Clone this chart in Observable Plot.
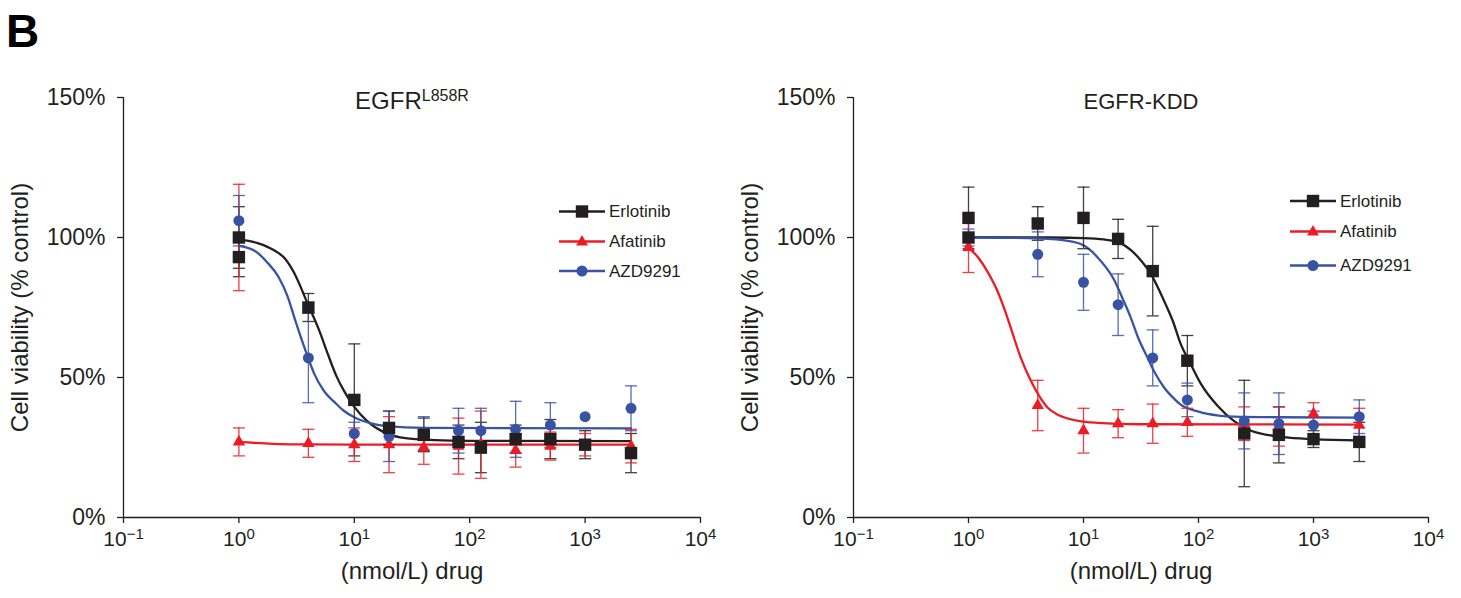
<!DOCTYPE html>
<html><head><meta charset="utf-8">
<script src="https://cdn.jsdelivr.net/npm/d3@7"></script>
<script src="https://cdn.jsdelivr.net/npm/@observablehq/plot@0.6"></script>
<style>
html,body{margin:0;padding:0;background:#fff;}
#wrap{position:relative;width:1461px;height:598px;overflow:hidden;font-family:"Liberation Sans",Arial,sans-serif;color:#231f20;}
#wrap svg{position:absolute;top:0;}
</style></head>
<body><div id="wrap"></div>
<script>
// ---------- shared ----------
const drugs = ["Erlotinib", "Afatinib", "AZD9291"];
const drugColors = ["#231f20", "#ed1c24", "#3953a4"];
const xTicks = [0.1, 1, 10, 100, 1000, 10000];
const xTickLabels = ["10^\u22121", "10^0", "10^1", "10^2", "10^3", "10^4"];
const yTicks = [0, 50, 100, 150];
const yTickLabels = ["0%", "50%", "100%", "150%"];
const xLabel = "(nmol/L) drug";
const yLabel = "Cell viability (% control)";
const panelTitles = ["EGFR^L858R", "EGFR-KDD"];
const figureLetter = "B";

// ---------- panel 1: EGFR L858R ----------
const l858rErlotinibConc = [1, 1, 4, 10, 20, 40, 80, 125, 250, 500, 1000, 2500];
const l858rErlotinibMean = [100, 93, 75, 42, 32, 29.5, 27, 25, 28, 28, 26, 23];
const l858rErlotinibSd   = [11, 7, 5, 20, 6, 6, 6, 9, 5, 7, 5, 7];
const l858rAfatinibConc = [1, 1, 4, 10, 20, 40, 80, 125, 250, 500, 1000, 2500];
const l858rAfatinibMean = [100, 27, 26.5, 26, 26, 25, 25.5, 26, 24, 25.5, 26, 25.5];
const l858rAfatinibSd   = [19, 5, 5, 6, 10, 6, 10, 12, 6, 5, 4, 6];
const l858rAzdConc = [1, 4, 10, 20, 40, 80, 125, 250, 500, 1000, 2500];
const l858rAzdMean = [106, 57, 30, 29, 30, 31, 31, 31.5, 33, 36, 39];
const l858rAzdSd   = [9, 16, 4, 9, 6, 8, 8, 10, 8, 0, 8];
// fitted curves
const l858rErlotinibFitConc = [1, 1.5, 2, 2.5, 3, 3.94, 5, 5.87, 7, 8.1, 10, 12.8, 18, 25, 50, 100, 2500];
const l858rErlotinibFitVal  = [99.3, 97.8, 95.5, 92.5, 87.5, 76.4, 66.5, 58.6, 50.5, 45.4, 39.5, 34.6, 30.5, 28.6, 27.6, 27.4, 27.3];
const l858rAfatinibFitConc = [1, 2, 4, 10, 2500];
const l858rAfatinibFitVal  = [27, 26.3, 26.1, 26, 26];
const l858rAzdFitConc = [1, 1.4, 1.77, 2.2, 2.64, 3.1, 3.44, 3.98, 4.5, 5.5, 6.7, 8, 10, 14, 19.4, 40, 2500];
const l858rAzdFitVal  = [97, 95, 91, 86, 79, 70, 64.4, 57, 51.3, 45, 41.3, 38.3, 35.8, 33.6, 32.6, 32, 31.8];

// ---------- panel 2: EGFR-KDD ----------
const kddErlotinibConc = [1, 1, 4, 10, 20, 40, 80, 250, 500, 1000, 2500];
const kddErlotinibMean = [107, 100, 105, 107, 99.5, 88, 56, 30, 29.5, 28, 27];
const kddErlotinibSd   = [11, 0, 6, 11, 7, 16, 9, 19, 10, 3, 7];
const kddAfatinibConc = [1, 4, 10, 20, 40, 80, 250, 500, 1000, 2500];
const kddAfatinibMean = [96.5, 40, 31, 33.5, 33.5, 34, 33.5, 32.5, 37, 33];
const kddAfatinibSd   = [9, 9, 8, 5, 7, 5, 6, 7, 4, 6];
const kddAzdConc = [1, 4, 10, 20, 40, 80, 250, 500, 1000, 2500];
const kddAzdMean = [100, 94, 84, 76, 57, 42, 34.5, 33.5, 33, 36];
const kddAzdSd   = [3, 8, 10, 11, 10, 6, 10, 11, 5, 6];
const kddErlotinibFitConc = [1, 5, 10, 15, 20, 25.7, 32, 38.5, 50, 60, 70, 85, 105, 147, 204, 286, 557, 1000, 2500];
const kddErlotinibFitVal  = [100.1, 100, 99.8, 99.3, 98.3, 95.6, 91.5, 87, 77.5, 70, 62, 55, 47.7, 39.8, 34.4, 31, 28.7, 28, 27.5];
const kddAfatinibFitConc = [1, 1.27, 1.5, 1.78, 2.05, 2.32, 2.84, 3.47, 4.1, 4.84, 5.8, 6.76, 9, 13.2, 30, 2500];
const kddAfatinibFitVal  = [96.5, 91.8, 87, 81, 74.5, 68, 57.2, 49, 43.5, 39.4, 37, 35.8, 34.5, 33.8, 33.3, 33.2];
const kddAzdFitConc = [1, 4, 8, 10, 13.2, 18.4, 22, 25.7, 30, 35.9, 42, 50, 60, 70, 100, 150, 204, 500, 2500];
const kddAzdFitVal  = [100, 99.7, 98.5, 97.2, 93, 85, 78, 71.5, 64, 57.2, 51.5, 46.5, 42.8, 40.3, 37.8, 36.4, 36, 35.8, 35.7];

// ---------- helpers ----------
const pts = (conc, mean, sd) => conc.map((c, i) => ({conc: c, mean: mean[i], sd: sd[i]}));
const fit = (conc, val) => conc.map((c, i) => ({conc: c, val: val[i]}));
const capSymbol = {draw(ctx) { ctx.moveTo(-6, 0); ctx.lineTo(6, 0); }};
const symbolOf = {Erlotinib: {symbol: "square", r: 7}, Afatinib: {symbol: "triangle", r: 4.6}, AZD9291: {symbol: "circle", r: 5.5}};
const colorOf = Object.fromEntries(drugs.map((d, i) => [d, drugColors[i]]));

function fixText(svg, titleSize, titleSupSize) {
  d3.select(svg).selectAll("text").each(function () {
    const t = this.textContent;
    const s = d3.select(this);
    if (/^\d+%$/.test(t)) { s.style("font-size", "23px"); return; }
    const k = t.indexOf("^");
    if (k < 0) return;
    const base = t.slice(0, k), sup = t.slice(k + 1);
    const tick = base === "10";
    s.text(null).style("font-size", (tick ? 21 : titleSize) + "px");
    s.append("tspan").text(base);
    s.append("tspan").style("font-size", (tick ? 15 : titleSupSize) + "px").attr("dy", tick ? -7 : -7.5).text(sup);
  });
}

function panel({width, marginRight, title, titleSize, series}) {
  const marks = [
    Plot.ruleY([{y: 0, x1: xTicks[0], x2: xTicks[xTicks.length - 1]}], {y: "y", x1: "x1", x2: "x2", stroke: "#231f20", strokeWidth: 1.3}),
    Plot.ruleX([{x: xTicks[0], y1: yTicks[0], y2: yTicks[yTicks.length - 1]}], {x: "x", y1: "y1", y2: "y2", stroke: "#231f20", strokeWidth: 1.3}),
    Plot.axisX({ticks: xTicks, tickFormat: d => xTickLabels[xTicks.indexOf(d)], tickSize: 6, tickPadding: 8, fontSize: 21, label: null, strokeWidth: 1.3}),
    Plot.axisY({ticks: yTicks, tickFormat: d => yTickLabels[yTicks.indexOf(d)], tickSize: 6, tickPadding: 12, fontSize: 23, label: null, strokeWidth: 1.3}),
    Plot.text([xLabel], {text: d => d, frameAnchor: "bottom", dy: 61, fontSize: 24, textAnchor: "middle"}),
    Plot.text([yLabel], {text: d => d, frameAnchor: "left", dx: -103, rotate: -90, fontSize: 24, textAnchor: "middle"}),
    Plot.text([title], {text: d => d, frameAnchor: "top", dy: 11, lineAnchor: "bottom", fontSize: titleSize, textAnchor: "middle"})
  ];
  for (const s of series) {
    marks.push(Plot.line(s.fit, {x: "conc", y: "val", stroke: colorOf[s.drug], strokeWidth: 2.3, curve: "monotone-x"}));
  }
  for (const s of series) {
    const e = s.pts.filter(d => d.sd > 0);
    const c = colorOf[s.drug];
    marks.push(Plot.ruleX(e, {x: "conc", y1: d => d.mean - d.sd, y2: d => d.mean + d.sd, stroke: c, strokeWidth: 1.3, strokeOpacity: 0.85}));
    marks.push(Plot.dot(e, {x: "conc", y: d => d.mean + d.sd, symbol: capSymbol, fill: "none", stroke: c, strokeWidth: 1.3, strokeOpacity: 0.85}));
    marks.push(Plot.dot(e, {x: "conc", y: d => d.mean - d.sd, symbol: capSymbol, fill: "none", stroke: c, strokeWidth: 1.3, strokeOpacity: 0.85}));
  }
  for (const name of ["Afatinib", "AZD9291", "Erlotinib"]) {
    const s = series.find(q => q.drug === name);
    marks.push(Plot.dot(s.pts, {x: "conc", y: "mean", symbol: symbolOf[name].symbol, r: symbolOf[name].r, fill: colorOf[name], stroke: "none"}));
  }
  const svg = Plot.plot({
    width, height: 598,
    marginLeft: 123, marginRight, marginTop: 97, marginBottom: 81,
    style: {fontFamily: "'Liberation Sans', Arial, sans-serif", color: "#231f20", background: "transparent", overflow: "visible"},
    x: {type: "log", domain: [xTicks[0], xTicks[xTicks.length - 1]]},
    y: {domain: [yTicks[0], yTicks[yTicks.length - 1]]},
    marks
  });
  fixText(svg, titleSize, 16);
  return svg;
}

const wrap = document.getElementById("wrap");
const p1 = panel({
  width: 730, marginRight: 30, title: panelTitles[0], titleSize: 24,
  series: [
    {drug: "Erlotinib", pts: pts(l858rErlotinibConc, l858rErlotinibMean, l858rErlotinibSd), fit: fit(l858rErlotinibFitConc, l858rErlotinibFitVal)},
    {drug: "Afatinib", pts: pts(l858rAfatinibConc, l858rAfatinibMean, l858rAfatinibSd), fit: fit(l858rAfatinibFitConc, l858rAfatinibFitVal)},
    {drug: "AZD9291", pts: pts(l858rAzdConc, l858rAzdMean, l858rAzdSd), fit: fit(l858rAzdFitConc, l858rAzdFitVal)}
  ]
});
p1.style.left = "0px";
wrap.appendChild(p1);
const p2 = panel({
  width: 731, marginRight: 33, title: panelTitles[1], titleSize: 22,
  series: [
    {drug: "Erlotinib", pts: pts(kddErlotinibConc, kddErlotinibMean, kddErlotinibSd), fit: fit(kddErlotinibFitConc, kddErlotinibFitVal)},
    {drug: "Afatinib", pts: pts(kddAfatinibConc, kddAfatinibMean, kddAfatinibSd), fit: fit(kddAfatinibFitConc, kddAfatinibFitVal)},
    {drug: "AZD9291", pts: pts(kddAzdConc, kddAzdMean, kddAzdSd), fit: fit(kddAzdFitConc, kddAzdFitVal)}
  ]
});
p2.style.left = "730px";
wrap.appendChild(p2);

// ---------- overlay: figure letter and legends ----------
const ov = d3.select(wrap).append("svg")
  .attr("width", 1461).attr("height", 598)
  .style("left", "0px").style("pointer-events", "none")
  .attr("font-family", "'Liberation Sans', Arial, sans-serif");
ov.append("text").attr("x", 6).attr("y", 46.5).attr("font-size", 46).attr("font-weight", "bold").attr("fill", "#000").text(figureLetter);

function legend(x0, x1, rowsY) {
  const xm = (x0 + x1) / 2;
  drugs.forEach((d, i) => {
    const y = rowsY[i], c = colorOf[d];
    const g = ov.append("g");
    g.append("line").attr("x1", x0).attr("x2", x1).attr("y1", y).attr("y2", y).attr("stroke", c).attr("stroke-width", 2.3);
    if (d === "Erlotinib") g.append("rect").attr("x", xm - 6.2).attr("y", y - 6.2).attr("width", 12.4).attr("height", 12.4).attr("fill", c);
    if (d === "Afatinib") g.append("path").attr("d", `M${xm},${y - 6.5}L${xm + 6},${y + 4}L${xm - 6},${y + 4}Z`).attr("fill", c);
    if (d === "AZD9291") g.append("circle").attr("cx", xm).attr("cy", y).attr("r", 5.5).attr("fill", c);
    g.append("text").attr("x", x1 + 4).attr("y", y).attr("dy", "0.35em").attr("font-size", 17).attr("fill", "#231f20").text(d);
  });
}
legend(559, 605, [211.5, 241.5, 271]);
legend(1290, 1336, [201, 231.5, 265.5]);
</script>
</body></html>
